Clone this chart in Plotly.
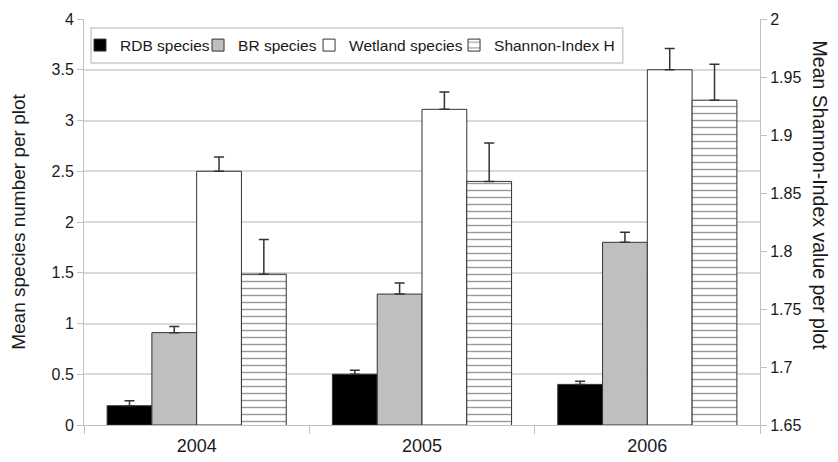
import plotly.graph_objects as go

years = ["2004", "2005", "2006"]
rdb = [0.19, 0.50, 0.40]
rdb_err = [0.05, 0.04, 0.03]
br = [0.91, 1.29, 1.80]
br_err = [0.06, 0.11, 0.10]
wet = [2.50, 3.11, 3.50]
wet_err = [0.14, 0.17, 0.21]
shannon = [1.78, 1.86, 1.93]
shannon_err = [0.03, 0.033, 0.031]

left_ticks = [0, 0.5, 1, 1.5, 2, 2.5, 3, 3.5, 4]
left_ticktext = ["0", "0.5", "1", "1.5", "2", "2.5", "3", "3.5", "4"]
right_ticks = [1.65, 1.7, 1.75, 1.8, 1.85, 1.9, 1.95, 2.0]
right_ticktext = ["1.65", "1.7", "1.75", "1.8", "1.85", "1.9", "1.95", "2"]

FONT = "Liberation Sans, Arial, sans-serif"
EDGE = "#333333"
TXT = "#1a1a1a"

def err(vals):
    return dict(type="data", array=vals, arrayminus=[0] * len(vals), symmetric=False,
                color=EDGE, thickness=1.5, width=5, visible=True)

fig = go.Figure()
fig.add_trace(go.Bar(x=years, y=rdb, name="RDB species", offsetgroup="a", legend="legend",
                     marker=dict(color="#000000", line=dict(color=EDGE, width=1)),
                     error_y=err(rdb_err)))
fig.add_trace(go.Bar(x=years, y=br, name="BR species", offsetgroup="b", legend="legend2",
                     marker=dict(color="#bfbfbf", line=dict(color=EDGE, width=1)),
                     error_y=err(br_err)))
fig.add_trace(go.Bar(x=years, y=wet, name="Wetland species", offsetgroup="c", legend="legend3",
                     marker=dict(color="#ffffff", line=dict(color=EDGE, width=1)),
                     error_y=err(wet_err)))
fig.add_trace(go.Bar(x=years, y=shannon, name="Shannon-Index H", offsetgroup="d",
                     yaxis="y2", legend="legend4",
                     marker=dict(color="#ffffff", line=dict(color=EDGE, width=1),
                                 pattern=dict(shape="-", size=7, solidity=0.2,
                                              fgcolor=EDGE, bgcolor="#ffffff",
                                              fillmode="overlay")),
                     error_y=err(shannon_err)))

def leg(x):
    return dict(orientation="h", x=x, y=0.9347, xanchor="left", yanchor="middle",
                bgcolor="rgba(0,0,0,0)", borderwidth=0,
                font=dict(family=FONT, size=15.5, color=TXT), itemwidth=30)

fig.update_layout(
    width=830, height=454,
    margin=dict(l=76, r=78, t=11, b=37, autoexpand=False),
    paper_bgcolor="#ffffff", plot_bgcolor="#ffffff",
    barmode="group", bargap=0.205, bargroupgap=0,
    font=dict(family=FONT, size=16, color=TXT),
    showlegend=True,
    legend=leg(-0.0059), legend2=leg(0.1687), legend3=leg(0.3329), legend4=leg(0.5474),
    xaxis=dict(type="category", showline=True, linecolor="#c0c0c0", linewidth=1,
               ticks="outside", tickson="boundaries", ticklen=8, tickcolor="#c0c0c0",
               tickfont=dict(size=18), showgrid=False, automargin=False,
               ticklabelstandoff=4),
    yaxis=dict(range=[0, 4], tickvals=left_ticks, ticktext=left_ticktext,
               showline=True, linecolor="#c0c0c0", linewidth=1,
               ticks="outside", ticklen=6, tickcolor="#c0c0c0",
               showgrid=True, gridcolor="#d9d9d9", gridwidth=1.5, zeroline=False,
               tickfont=dict(size=16), automargin=False,
               title=dict(text="Mean species number per plot", font=dict(size=19), standoff=20)),
    yaxis2=dict(range=[1.65, 2.0], overlaying="y", side="right",
                tickvals=right_ticks, ticktext=right_ticktext,
                showline=True, linecolor="#c0c0c0", linewidth=1,
                ticks="outside", ticklen=6, tickcolor="#c0c0c0",
                showgrid=False, zeroline=False, tickfont=dict(size=16), automargin=False),
    shapes=[dict(type="rect", xref="paper", yref="paper", x0=0.0104, x1=0.797,
                 y0=0.8916, y1=0.978, line=dict(color="#cccccc", width=1.5),
                 fillcolor="#ffffff", layer="above")],
    annotations=[dict(text="Mean Shannon-Index value per plot", textangle=90,
                      xref="paper", yref="paper", x=1.0888, y=0.565,
                      xanchor="center", yanchor="middle", showarrow=False,
                      font=dict(family=FONT, size=19.5, color=TXT))],
)

fig.write_html("out.html")
